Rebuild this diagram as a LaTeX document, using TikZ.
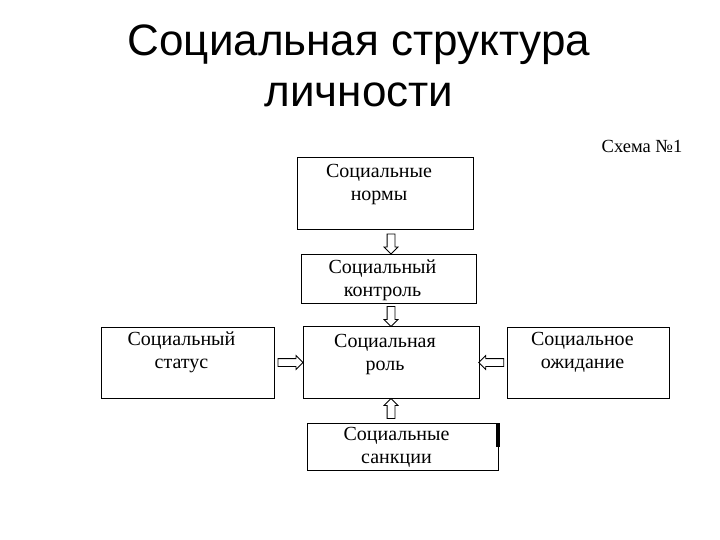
\documentclass[tikz,border=0pt]{standalone}
\usepackage{fontspec}
\setmainfont{Liberation Serif}
\newfontfamily\titlefont{Liberation Sans}
\usetikzlibrary{positioning, shapes.arrows}
\begin{document}
\begin{tikzpicture}[
    x=1pt, y=-1pt,
    box/.style={draw, line width=1pt, inner sep=0pt},
    txt/.style={align=center, inner sep=0pt, xshift=-6pt, font=\fontsize{20}{23}\selectfont},
    hollow/.style={draw, single arrow, single arrow head extend=3pt, inner sep=3.5pt,
        minimum height=20pt, line width=0.8pt, sloped, allow upside down},
    hollowlong/.style={hollow, minimum height=25pt}
]
\useasboundingbox (0,0) rectangle (720,540);

\node[align=center, inner sep=0pt, anchor=north, font=\titlefont\fontsize{44}{51}\selectfont] (title) at (359,25) {Социальная структура\\личности};
\node[anchor=base, inner sep=0pt, font=\fontsize{18.5}{20}\selectfont] (scheme) at (642,153) {Схема №1};

\node[box, minimum width=176pt, minimum height=72pt] (norms) at (385,194) {};
\node[box, minimum width=175pt, minimum height=49pt] (control) at (388.5,278.5) {};
\node[box, minimum width=176pt, minimum height=72pt] (role) at (391,362) {};
\node[box, minimum width=173pt, minimum height=71pt] (status) at (187.5,362.5) {};
\node[box, minimum width=162pt, minimum height=71pt] (expect) at (588.5,362.5) {};
\node[box, minimum width=191pt, minimum height=47pt] (sanctions) at (402.5,446.5) {};

\node[txt, below=7pt of norms.north] (normsT) {Социальные\\нормы};
\node[txt, below=6pt of control.north] (controlT) {Социальный\\контроль};
\node[txt, below=9pt of role.north] (roleT) {Социальная\\роль};
\node[txt, below=5pt of status.north] (statusT) {Социальный\\статус};
\node[txt, below=6pt of expect.north] (expectT) {Социальное\\ожидание};
\node[txt, below=5pt of sanctions.north] (sanctionsT) {Социальные\\санкции};

\path (norms.south -| role) -- (control.north -| role) node[hollow, midway] (a1) {};
\path (control.south -| role) -- (role.north) node[hollow, midway] (a2) {};
\path (sanctions.north -| role) -- (role.south) node[hollow, midway] (a3) {};
\path (status.east) -- (status.east -| role.west) node[hollowlong, midway] (a4) {};
\path (expect.west) -- (expect.west -| role.east) node[hollowlong, midway] (a5) {};

\fill ([xshift=-3pt]sanctions.north east) rectangle ([xshift=1pt, yshift=-24pt]sanctions.north east);
\end{tikzpicture}
\end{document}
